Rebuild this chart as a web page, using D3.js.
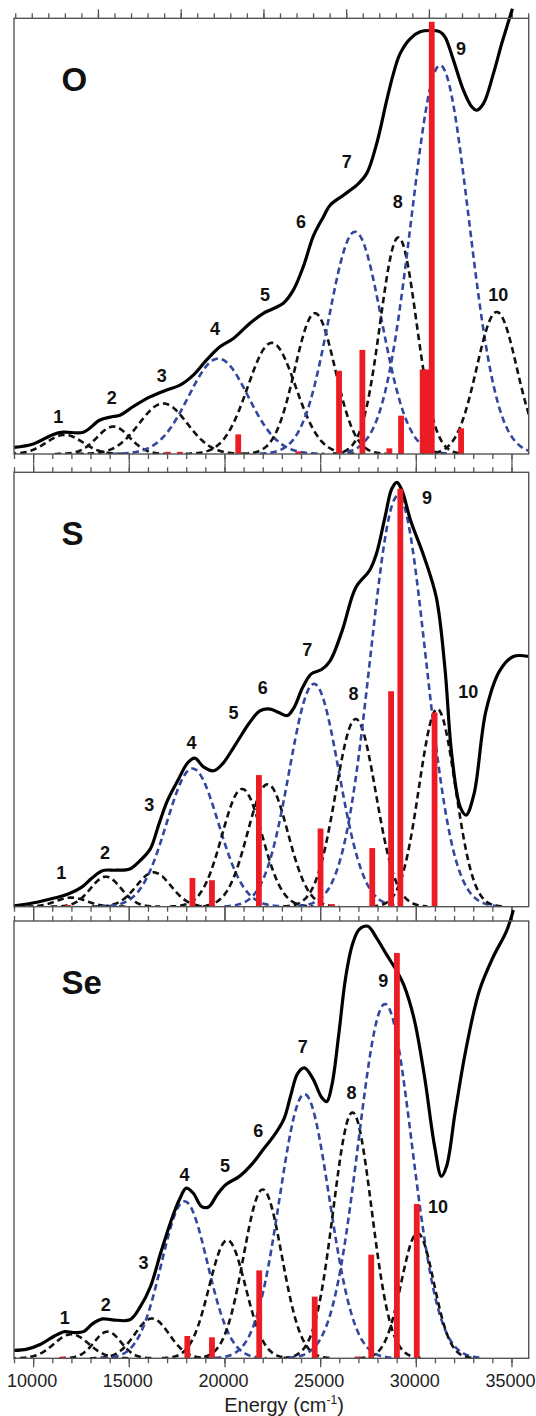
<!DOCTYPE html>
<html>
<head>
<meta charset="utf-8">
<script src="https://cdnjs.cloudflare.com/ajax/libs/d3/7.8.5/d3.min.js"></script>
<style>
  body { margin: 0; background: #fff; }
  svg { display: block; font-family: "Liberation Sans", Arial, sans-serif; }
</style>
</head>
<body>
<div id="chart"></div>
<script>
// Tick labels of the energy axis (cm-1)
let energyTicks = [10000, 15000, 20000, 25000, 30000, 35000];
let panelNames = ["O", "S", "Se"];
let bandNumbers = ["1", "2", "3", "4", "5", "6", "7", "8", "9", "10"];
let blueBands = ["4", "7", "9"];

// Experimental spectra: [energy, relative absorbance]
let specO = [[9000,0.015],[10010,0.023],[11056,0.045],[11578,0.05],[12623,0.05],[13495,0.078],
  [14191,0.086],[14540,0.089],[15236,0.109],[16107,0.131],[16978,0.147],[17675,0.158],[18371,0.181],
  [19068,0.216],[19765,0.246],[20462,0.265],[21333,0.30],[22030,0.323],[23075,0.346],[23598,0.376],
  [24121,0.43],[24643,0.50],[25166,0.544],[25518,0.571],[26215,0.594],[26913,0.617],[27436,0.644],
  [27958,0.713],[28481,0.812],[28830,0.873],[29178,0.919],[29700,0.953],[30223,0.969],[30746,0.972],
  [31268,0.969],[31530,0.957],[31965,0.904],[32488,0.835],[32924,0.797],[33185,0.789],[33534,0.804],
  [34056,0.873],[34491,0.942],[35050,1.022]];
let specS = [[9000,0.002],[10038,0.009],[11112,0.02],[11828,0.029],[12544,0.045],[13081,0.066],
  [13618,0.083],[14334,0.084],[15050,0.087],[15587,0.106],[16124,0.133],[16572,0.19],[17019,0.244],
  [17556,0.29],[18093,0.332],[18451,0.342],[18899,0.322],[19436,0.313],[19883,0.328],[20599,0.375],
  [21315,0.424],[21852,0.451],[22389,0.455],[22837,0.447],[23284,0.44],[23642,0.459],[24090,0.505],
  [24537,0.536],[25074,0.546],[25522,0.566],[26148,0.635],[26864,0.735],[27580,0.774],[27938,0.812],
  [28386,0.896],[28744,0.962],[29012,0.977],[29281,0.958],[29728,0.889],[30444,0.804],[31071,0.712],
  [31518,0.551],[31876,0.351],[32324,0.229],[32628,0.211],[33040,0.259],[33666,0.451],[34382,0.543],
  [35098,0.576],[35900,0.576]];
let specSe = [[9000,0.018],[9680,0.021],[10396,0.032],[11112,0.051],[11649,0.061],[12097,0.059],
  [12634,0.061],[13081,0.078],[13618,0.09],[14155,0.088],[15050,0.088],[15587,0.117],[16124,0.163],
  [16661,0.24],[17198,0.313],[17646,0.363],[18004,0.389],[18362,0.378],[18809,0.347],[19167,0.346],
  [19615,0.374],[20062,0.397],[20778,0.416],[21494,0.447],[22031,0.478],[22568,0.508],[23105,0.547],
  [23463,0.601],[23821,0.651],[24179,0.664],[24627,0.639],[25074,0.597],[25343,0.587],[25611,0.624],
  [25969,0.739],[26327,0.869],[26685,0.946],[27043,0.981],[27490,0.988],[27938,0.962],[28475,0.923],
  [29012,0.885],[29370,0.854],[29907,0.777],[30444,0.647],[30981,0.485],[31339,0.416],[31608,0.439],
  [32055,0.562],[32592,0.70],[33308,0.839],[34024,0.916],[34740,0.977],[35098,1.025]];

// Gaussian bands 1-10: centre (cm-1), height, sigma (cm-1)
let centersO = [11650, 14190, 16800, 19680, 22470, 24730, 26824, 29089, 31268, 34230];
let heightsO = [0.044, 0.063, 0.116, 0.219, 0.255, 0.323, 0.51, 0.497, 0.892, 0.326];
let widthsO  = [950, 850, 1250, 1550, 1250, 1050, 1380, 950, 1500, 1050];

let centersS = [12000, 13800, 16300, 18330, 20920, 22260, 24680, 26860, 29070, 31120];
let heightsS = [0.021, 0.069, 0.079, 0.318, 0.271, 0.282, 0.513, 0.432, 0.946, 0.455];
let widthsS  = [800, 800, 900, 1350, 1050, 1050, 1300, 1050, 1450, 950];

let centersSe = [12000, 13890, 16210, 17910, 20150, 22000, 24180, 26690, 28390, 30090];
let heightsSe = [0.055, 0.061, 0.091, 0.359, 0.27, 0.386, 0.604, 0.562, 0.81, 0.286];
let widthsSe  = [900, 700, 900, 1200, 950, 1000, 1300, 1000, 1400, 850];

// Calculated transitions (red sticks)
let barEnergyO = [17040, 17665, 20720, 23860, 25988, 27207, 28619, 29229, 30360, 30560, 30833, 32366];
let barHeightO = [0.005, 0.005, 0.045, 0.006, 0.191, 0.239, 0.013, 0.088, 0.194, 0.194, 0.992, 0.059];
let barEnergyS = [11828, 18326, 19346, 21799, 25021, 25611, 27723, 28708, 29191, 30981];
let barHeightS = [0.004, 0.066, 0.061, 0.303, 0.18, 0.006, 0.135, 0.496, 0.962, 0.447];
let barEnergySe = [11560, 18058, 19346, 21816, 24716, 26954, 27670, 29012, 30050];
let barHeightSe = [0.004, 0.051, 0.048, 0.201, 0.141, 0.004, 0.237, 0.927, 0.353];

// Where the band numbers sit, in data units [energy, level]
let labelAtO = [[11315,0.087],[14106,0.129],[16719,0.181],[19505,0.287],[22118,0.365],
  [24000,0.533],[26388,0.671],[29054,0.579],[32362,0.93],[34311,0.365]];
let labelAtS = [[11472,0.079],[13761,0.125],[16071,0.236],[18272,0.378],[20472,0.448],
  [21998,0.505],[24323,0.592],[26738,0.49],[30585,0.941],[32738,0.495]];
let labelAtSe = [[11650,0.094],[13798,0.124],[15768,0.22],[17916,0.42],[20028,0.44],
  [21763,0.52],[24088,0.712],[26634,0.608],[28296,0.863],[31159,0.346]];

let panels = [
  {spec: specO, c: centersO, h: heightsO, w: widthsO, be: barEnergyO, bh: barHeightO, lab: labelAtO},
  {spec: specS, c: centersS, h: heightsS, w: widthsS, be: barEnergyS, bh: barHeightS, lab: labelAtS},
  {spec: specSe, c: centersSe, h: heightsSe, w: widthsSe, be: barEnergySe, bh: barHeightSe, lab: labelAtSe}
];
let boxes = [{top: 18.3, bottom: 454}, {top: 472.3, bottom: 906.7}, {top: 921, bottom: 1358.3}];

let svg = d3.select("#chart")
  .append("svg")
  .attr("width", 536)
  .attr("height", 1416);

let x = d3.scaleLinear().domain([9000, 35900]).range([14, 528.7]);
// the O panel carries a second, unlabelled top axis
let xTop = d3.scaleLinear().domain([0, 31.03]).range([15.2, 528.7]);

let minorE = d3.range(9000, 35001, 1000);

let line = d3.line()
  .x(d => x(d[0]))
  .curve(d3.curveCatmullRom.alpha(0.5));

function gaussPoints(c, h, s) {
  return d3.range(c - 3.6 * s, c + 3.6 * s, 40)
    .map(e => [e, h * Math.exp(-((e - c) * (e - c)) / (2 * s * s))]);
}

function styleTicks(g) {
  g.select(".domain").remove();
  g.selectAll(".tick line").attr("stroke", "#555").attr("stroke-width", 1.3);
}

panels.forEach(function(p, i) {
  let box = boxes[i];
  let y = d3.scaleLinear().domain([0, 1]).range([box.bottom, box.top]);
  let g = svg.append("g");

  svg.append("clipPath").attr("id", "clip" + i)
    .append("rect")
    .attr("x", x.range()[0]).attr("y", box.top)
    .attr("width", x.range()[1] - x.range()[0])
    .attr("height", box.bottom - box.top);

  // axis ticks, outward on both sides
  let bottomMinor = d3.axisBottom(x).tickValues(minorE).tickSize(5).tickFormat("");
  g.append("g").attr("transform", `translate(0,${box.bottom})`).call(bottomMinor).call(styleTicks);
  let bm = g.append("g").attr("transform", `translate(0,${box.bottom})`)
    .call(d3.axisBottom(x).tickValues(energyTicks).tickSize(9).tickFormat(""));
  if (i === 2) {
    bm.call(d3.axisBottom(x).tickValues(energyTicks).tickSize(9).tickPadding(7).tickFormat(d3.format("d")));
    bm.selectAll(".tick text")
      .attr("font-size", 18)
      .attr("dx", -1.5)
      .attr("fill", "#222")
      .attr("font-family", "Liberation Sans, Arial, sans-serif");
  }
  bm.call(styleTicks);

  if (i === 0) {
    g.append("g").attr("transform", `translate(0,${box.top})`)
      .call(d3.axisTop(xTop).tickValues(d3.range(0, 32, 1)).tickSize(5).tickFormat(""))
      .call(styleTicks);
    g.append("g").attr("transform", `translate(0,${box.top})`)
      .call(d3.axisTop(xTop).tickValues([5, 10, 15, 20, 25, 30]).tickSize(9).tickFormat(""))
      .call(styleTicks);
  } else {
    g.append("g").attr("transform", `translate(0,${box.top})`)
      .call(d3.axisTop(x).tickValues(minorE).tickSize(5).tickFormat(""))
      .call(styleTicks);
    g.append("g").attr("transform", `translate(0,${box.top})`)
      .call(d3.axisTop(x).tickValues(energyTicks).tickSize(9).tickFormat(""))
      .call(styleTicks);
  }

  // Gaussian components
  let bandG = g.append("g").attr("clip-path", `url(#clip${i})`);
  bandNumbers.forEach(function(n, k) {
    bandG.append("path")
      .datum(gaussPoints(p.c[k], p.h[k], p.w[k]))
      .attr("d", line.y(d => y(d[1])))
      .attr("fill", "none")
      .attr("stroke", blueBands.includes(n) ? "#34479f" : "#111")
      .attr("stroke-width", 2.6)
      .attr("stroke-dasharray", "6.5,4");
  });

  // experimental spectrum
  g.append("path")
    .datum(p.spec)
    .attr("d", line.y(d => y(d[1])))
    .attr("fill", "none")
    .attr("stroke", "#000")
    .attr("stroke-width", 3.2)
    .attr("stroke-linejoin", "round");

  // calculated transitions
  g.selectAll("rect.bar")
    .data(p.be.map((e, k) => [e, p.bh[k]]))
    .enter()
    .append("rect")
    .attr("class", "bar")
    .attr("x", d => x(d[0]) - 2.9)
    .attr("width", 5.8)
    .attr("y", d => y(d[1]))
    .attr("height", d => y(0) - y(d[1]))
    .attr("fill", "#ed1c24");

  // frame
  g.append("rect")
    .attr("x", x.range()[0]).attr("y", box.top)
    .attr("width", x.range()[1] - x.range()[0])
    .attr("height", box.bottom - box.top)
    .attr("fill", "none")
    .attr("stroke", "#555")
    .attr("stroke-width", 1.4);

  // band numbers
  g.selectAll("text.num")
    .data(p.lab)
    .enter()
    .append("text")
    .attr("class", "num")
    .attr("x", d => x(d[0]))
    .attr("y", d => y(d[1]))
    .attr("dy", "0.36em")
    .attr("text-anchor", "middle")
    .attr("font-size", 18)
    .attr("font-weight", "bold")
    .attr("fill", "#111")
    .text((d, k) => bandNumbers[k]);

  // panel name
  g.append("text")
    .attr("x", 61.5)
    .attr("y", box.top + 73)
    .attr("font-size", 33)
    .attr("font-weight", "bold")
    .attr("fill", "#111")
    .text(panelNames[i]);
});

// axis title
let title = svg.append("text")
  .attr("x", 284)
  .attr("y", 1412)
  .attr("text-anchor", "middle")
  .attr("font-size", 20)
  .attr("fill", "#222");
title.append("tspan").text("Energy (cm");
title.append("tspan").attr("font-size", 12).attr("dy", -8).text("-1");
title.append("tspan").attr("dy", 8).text(")");
</script>
</body>
</html>
